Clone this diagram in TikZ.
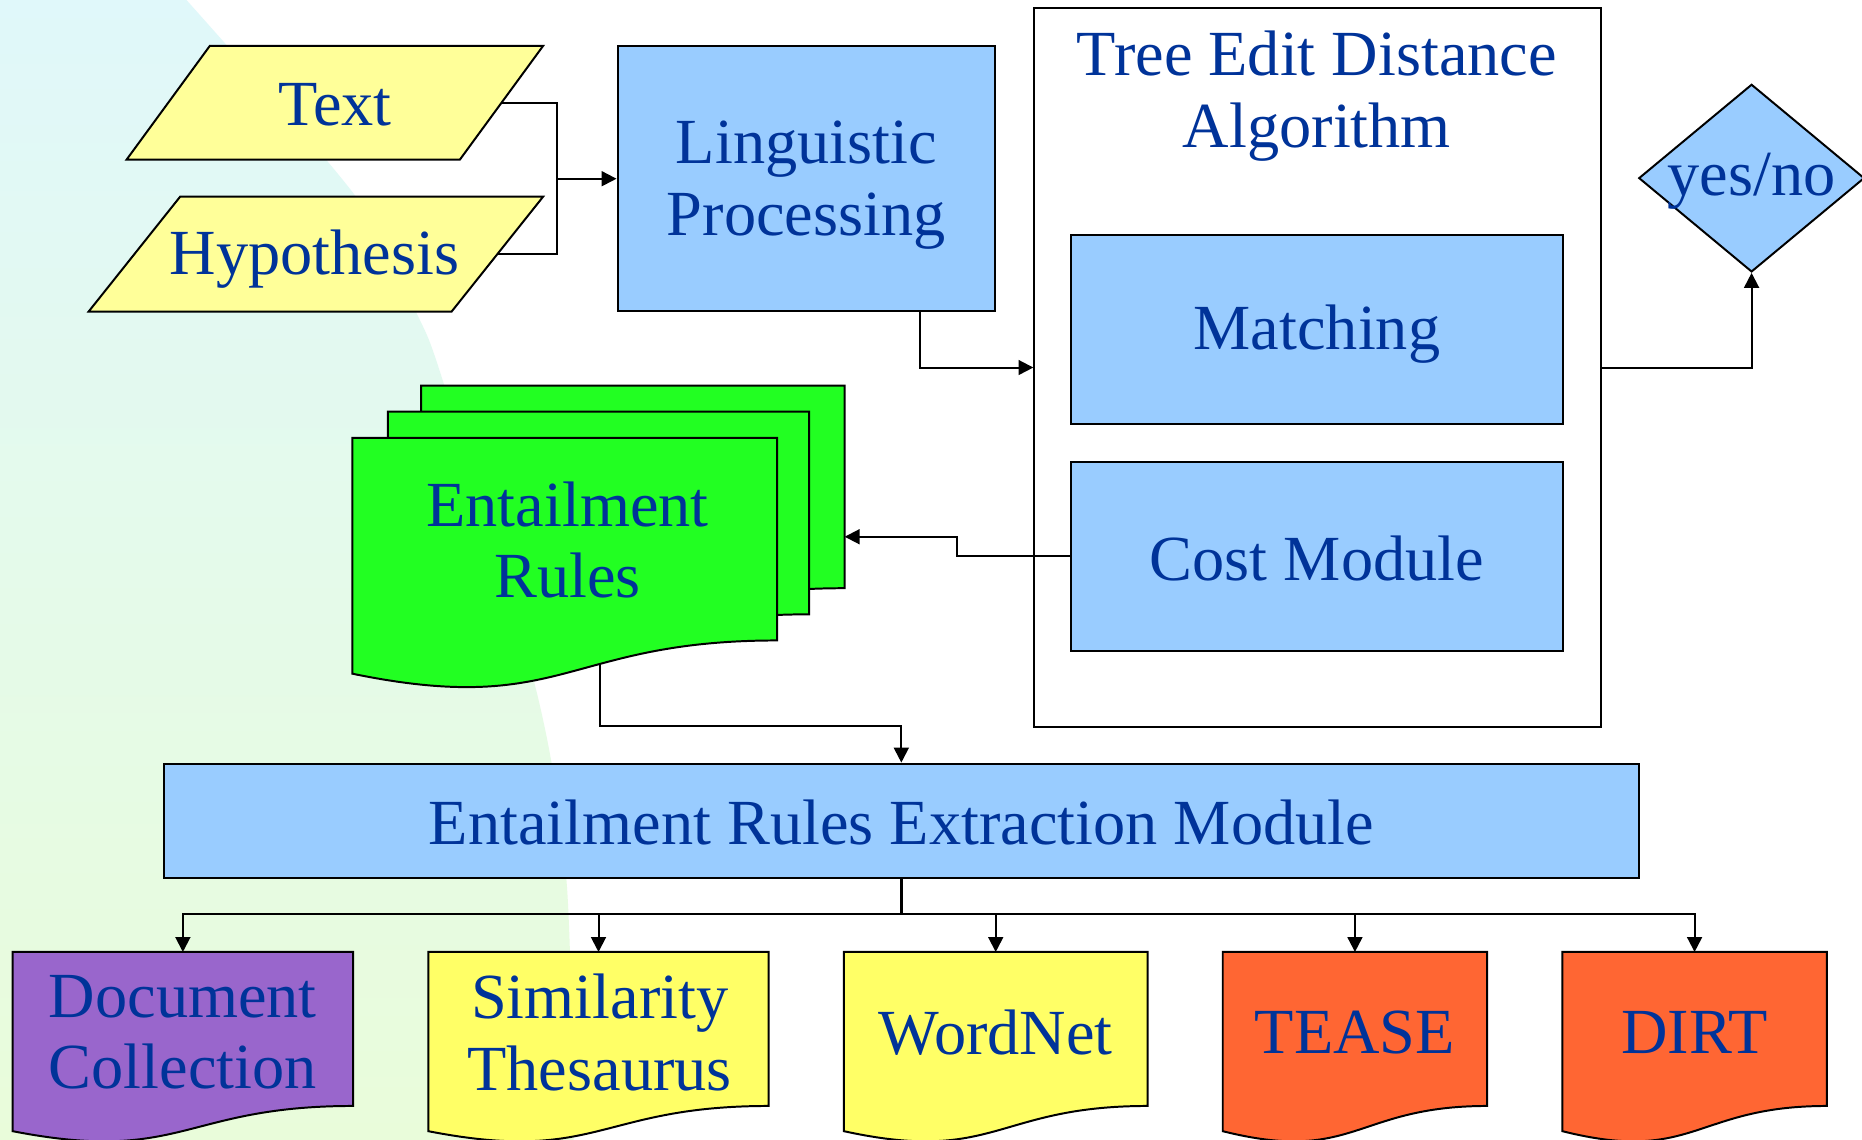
\documentclass[tikz,border=0pt]{standalone}
\usepackage{fontspec}
\setmainfont{Liberation Serif}
\usetikzlibrary{arrows.meta,calc,shapes.geometric}
\definecolor{txtblue}{RGB}{0,51,153}
\definecolor{boxblue}{RGB}{153,204,255}
\definecolor{paraYellow}{RGB}{255,255,153}
\definecolor{docYellow}{RGB}{255,255,102}
\definecolor{docGreen}{RGB}{34,255,34}
\definecolor{docPurple}{RGB}{153,102,204}
\definecolor{docOrange}{RGB}{255,102,51}
\definecolor{bgCyan}{RGB}{224,248,250}
\definecolor{bgGreen}{RGB}{233,252,218}
\pgfdeclarelayer{bglayer}
\pgfdeclarelayer{shapelayer}
\pgfsetlayers{bglayer,shapelayer,main}
\newcommand{\docshape}[3]{%
  \filldraw[fill=#2, draw=black, line width=1pt]
   (#1.north west) -- (#1.north east) -- (#1.south east)
   .. controls (#1.south) and ($(#1.south)+(0,0.381*#3)$) ..
   ($(#1.south west)+(0,0.1646*#3)$) -- cycle;}
\newcommand{\parashape}[2]{%
  \filldraw[fill=paraYellow, draw=black, line width=1pt]
   ($(#1.north west)+(#2,0)$) -- ($(#1.north east)+(#2,0)$) --
   ($(#1.south east)+(-#2,0)$) -- ($(#1.south west)+(-#2,0)$) -- cycle;}
\begin{document}
\begin{tikzpicture}[x=0.6pt, y=-0.6pt,
  font=\fontsize{32.5}{36}\selectfont, text=txtblue,
  box/.style={rectangle, draw=black, line width=1pt, fill=boxblue, inner sep=0pt},
  area/.style={rectangle, inner sep=0pt, align=center},
  lbl/.style={inner sep=0pt, align=center},
  conn/.style={draw=black, line width=1pt},
  arr/.style={draw=black, line width=1pt, -{Triangle[length=7.5pt,width=7.5pt]}}]
\useasboundingbox (0,0) rectangle (1568,960);
\begin{pgfonlayer}{bglayer}
  \fill[white] (0,0) rectangle (1568,960);
  \shade[top color=bgCyan, bottom color=bgGreen]
    (0,0) -- plot[smooth] coordinates {(157,0) (300,166) (350,262) (374,324) (451,579) (477,741) (483,960)}
    -- (0,960) -- cycle;
\end{pgfonlayer}

% input parallelograms (text areas)
\node[area, minimum width=168pt, minimum height=57pt] (txt) at (282,86.5) {};
\node[lbl] (txtl) at (282,88.5) {Text};
\node[area, minimum width=183pt, minimum height=57.6pt] (hyp) at (266,214) {};
\node[lbl] (hypl) at (265,218) {Hypothesis};

% main boxes
\node[box, minimum width=190.8pt, minimum height=133.8pt] (lp) at (679,150.5) {};
\node[lbl] (lpl) at (679,156) {Linguistic\\Processing};
\node[rectangle, draw=black, line width=1pt, fill=white, inner sep=0pt,
      minimum width=286.2pt, minimum height=363pt] (ted) at (1109.5,309.5) {};
\node[lbl] (tedl) at (1109,81) {Tree Edit Distance\\Algorithm};
\node[box, minimum width=248.4pt, minimum height=95.4pt] (match) at (1109,277.5) {};
\node[lbl] (matchl) at (1109,281) {Matching};
\node[box, minimum width=248.4pt, minimum height=95.4pt] (cost) at (1109,468.5) {};
\node[lbl] (costl) at (1109,470) {Cost Module};
\node[box, minimum width=745.2pt, minimum height=57.6pt] (ext) at (759,691) {};
\node[lbl] (extl) at (759,692.5) {Entailment Rules Extraction Module};
\node[diamond, draw=black, line width=1pt, fill=boxblue, inner sep=0pt,
      minimum width=114pt, minimum height=94.8pt] (yn) at (1475,150) {};
\node[lbl] (ynl) at (1475,153) {yes/no};

% entailment rules stack (text areas)
\node[area, minimum width=213.6pt, minimum height=102pt] (er3) at (533,410) {};
\node[area, minimum width=212.4pt, minimum height=102pt] (er2) at (504,432) {};
\node[area, minimum width=214.2pt, minimum height=102pt] (er1) at (475.5,454) {};
\node[lbl] (er1l) at (478,455) {Entailment\\Rules};
\coordinate (erb) at (505,558.5);

% resources (text areas)
\node[area, minimum width=171.6pt, minimum height=77.4pt] (dc) at (154,866.5) {};
\node[area, minimum width=171.6pt, minimum height=77.4pt] (st) at (504,866.5) {};
\node[area, minimum width=153pt, minimum height=77.4pt] (wn) at (838.5,866.5) {};
\node[area, minimum width=133.2pt, minimum height=77.4pt] (te) at (1141,866.5) {};
\node[area, minimum width=133.2pt, minimum height=77.4pt] (di) at (1427,866.5) {};

\begin{pgfonlayer}{shapelayer}
  \parashape{txt}{35}
  \parashape{hyp}{38.5}
  \docshape{er3}{docGreen}{170}
  \docshape{er2}{docGreen}{170}
  \docshape{er1}{docGreen}{170}
  \docshape{dc}{docPurple}{129}
  \docshape{st}{docYellow}{129}
  \docshape{wn}{docYellow}{129}
  \docshape{te}{docOrange}{129}
  \docshape{di}{docOrange}{129}
\end{pgfonlayer}

\node[lbl] (dcl) at (154,869.5) {Document\\Collection};
\node[lbl] (stl) at (505,869.5) {Similarity\\Thesaurus};
\node[lbl] (wnl) at (838.5,869.5) {WordNet};
\node[lbl] (tel) at (1141,869.5) {TEASE};
\node[lbl] (dil) at (1427,869.5) {DIRT};

% connectors
\draw[conn] (txt.east) -| ($(lp.west)+(-50,0)$);
\draw[conn] (hyp.east) -| ($(lp.west)+(-50,0)$);
\draw[arr] ($(lp.west)+(-50,0)$) -- (lp.west);
\draw[arr] (lp.south -| 775,0) |- (ted.west);
\draw[arr] (ted.east) -| (yn.south);
\draw[arr] (cost.west) -- (806,468.5) |- (er3.east |- 0,452);
\draw[arr] (erb) -- (505,611) -| (ext.north);
\draw[conn, line width=1.5pt] (ext.south) -- (759,770);
\draw[arr] (759,770) -| (dc.north);
\draw[arr] (759,770) -| (st.north);
\draw[arr] (759,770) -| (wn.north);
\draw[arr] (759,770) -| (te.north);
\draw[arr] (759,770) -| (di.north);
\end{tikzpicture}
\end{document}
